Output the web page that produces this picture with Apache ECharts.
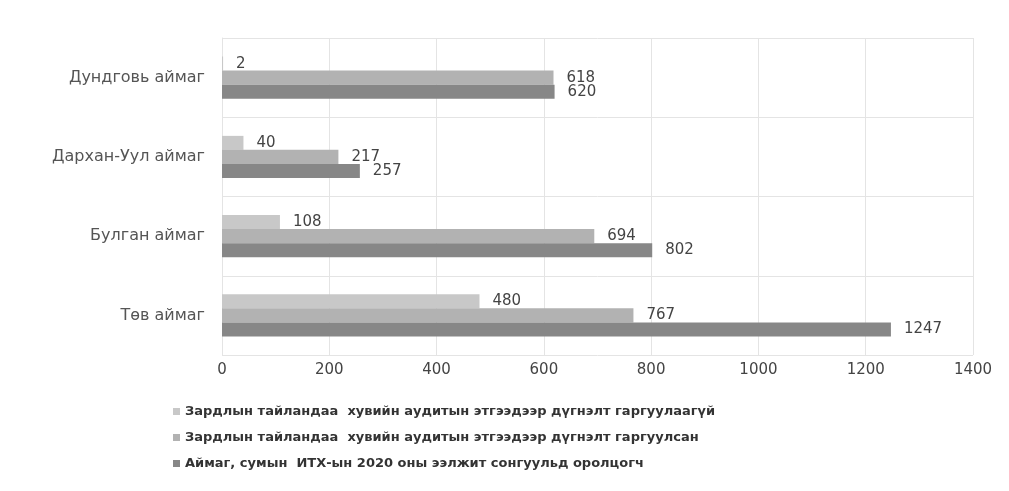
<!DOCTYPE html>
<html><head><meta charset="utf-8">
<script src="https://cdn.jsdelivr.net/npm/echarts@6/dist/echarts.min.js"></script>
<style>html,body{margin:0;padding:0;background:#fff}#c{width:1009px;height:491px}</style>
</head><body><div id="c"></div>
<script>
var categories = ['Төв аймаг', 'Булган аймаг', 'Дархан-Уул аймаг', 'Дундговь аймаг'];
var seriesNames = [
  'Зардлын тайландаа  хувийн аудитын этгээдээр дүгнэлт гаргуулаагүй',
  'Зардлын тайландаа  хувийн аудитын этгээдээр дүгнэлт гаргуулсан',
  'Аймаг, сумын  ИТХ-ын 2020 оны ээлжит сонгуульд оролцогч'
];
var notAudited = [480, 108, 40, 2];
var audited = [767, 694, 217, 618];
var participants = [1247, 802, 257, 620];
var xTicks = [0, 200, 400, 600, 800, 1000, 1200, 1400];

var colors = ['#c8c8c8', '#b2b2b2', '#878787'];
var values = [notAudited, audited, participants];
var FONT = 'DejaVu Sans';

function mk(i) {
  return {
    name: seriesNames[i], type: 'bar', data: values[i],
    barGap: '0%', barCategoryGap: '47%',
    itemStyle: { color: colors[i] },
    label: { show: true, position: 'right', distance: 13, color: '#444', fontSize: 15, fontFamily: FONT }
  };
}

var chart = echarts.init(document.getElementById('c'));
chart.setOption({
  animation: false,
  backgroundColor: '#fff',
  grid: { left: 222, right: 36, top: 38, bottom: 136, containLabel: false },
  legend: {
    orient: 'vertical', left: 168, top: 400, itemGap: 13,
    itemWidth: 7, itemHeight: 7, icon: 'rect',
    data: seriesNames,
    textStyle: { fontSize: 13, fontWeight: 'bold', color: '#333', fontFamily: FONT }
  },
  xAxis: {
    type: 'value', min: xTicks[0], max: xTicks[xTicks.length - 1], interval: 200,
    axisLine: { show: false }, axisTick: { show: false },
    axisLabel: { fontSize: 15, color: '#444', margin: 8, fontFamily: FONT, formatter: function (v) { return String(v); } },
    splitLine: { show: true, lineStyle: { color: '#e4e4e4' } }
  },
  yAxis: {
    type: 'category', data: categories,
    axisLine: { show: true, lineStyle: { color: '#e4e4e4' } }, axisTick: { show: false },
    axisLabel: { fontSize: 16, color: '#555', margin: 17, fontFamily: FONT },
    splitLine: { show: true, lineStyle: { color: '#e4e4e4' } }
  },
  series: [mk(0), mk(1), mk(2)]
});
</script></body></html>
